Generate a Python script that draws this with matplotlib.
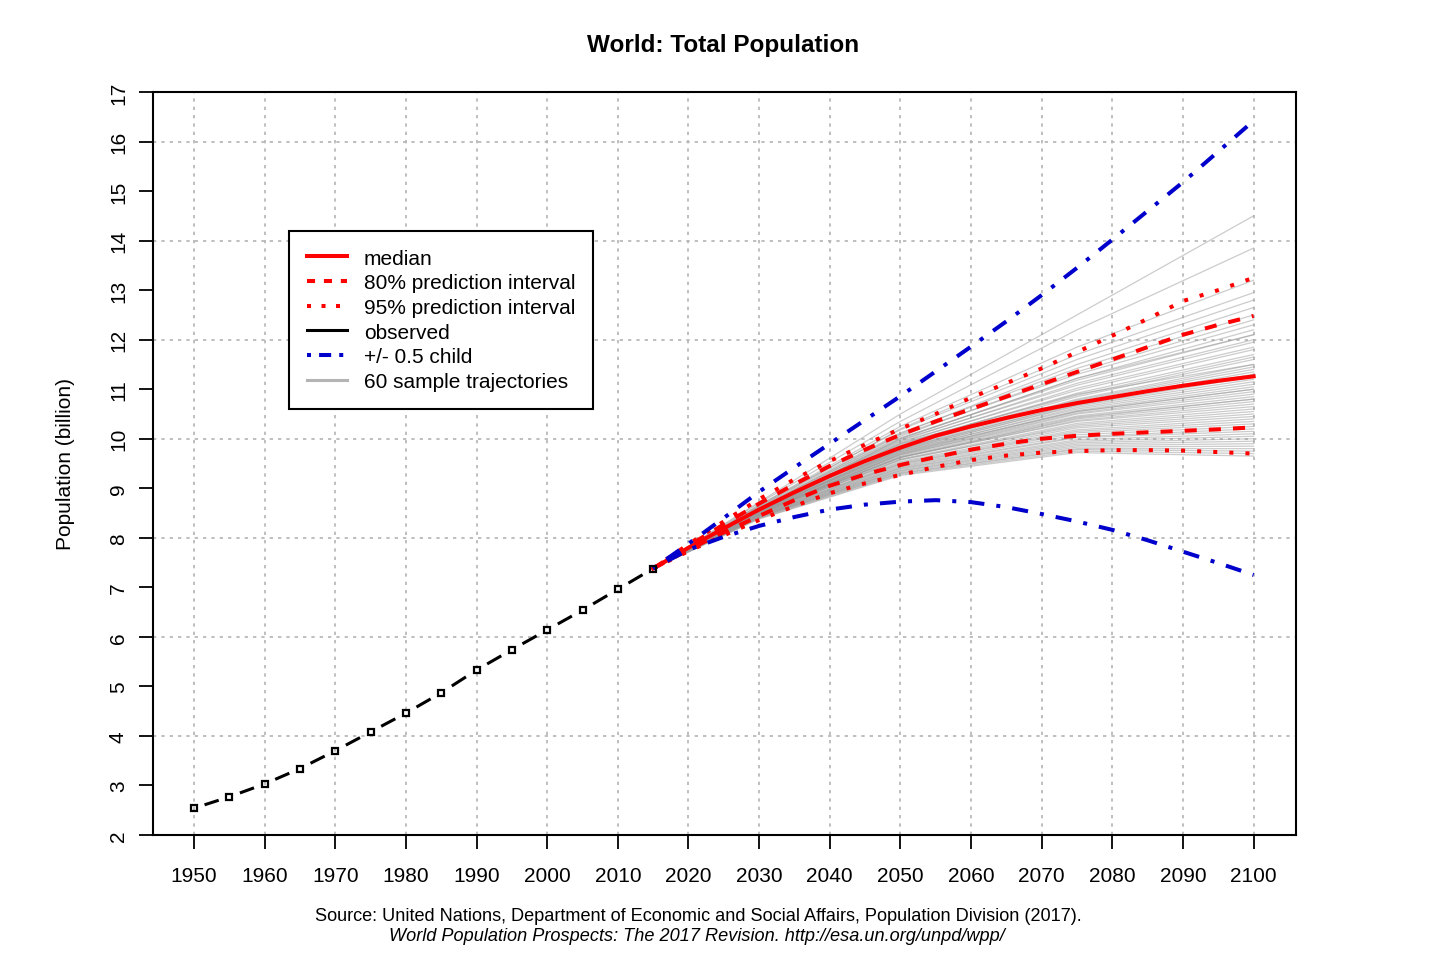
import numpy as np
import matplotlib
matplotlib.use("Agg")
import matplotlib.pyplot as plt
from matplotlib.lines import Line2D

plt.rcParams['font.family'] = ['Liberation Sans', 'DejaVu Sans']

# observed population (billion)
obs_years = [1950, 1955, 1960, 1965, 1970, 1975, 1980, 1985, 1990, 1995, 2000, 2005, 2010, 2015]
obs_pop = [2.54, 2.77, 3.03, 3.34, 3.70, 4.08, 4.46, 4.87, 5.33, 5.74, 6.14, 6.54, 6.96, 7.38]

# projections
proj_years = [2015, 2020, 2025, 2030, 2035, 2040, 2045, 2050, 2055, 2060,
              2065, 2070, 2075, 2080, 2085, 2090, 2095, 2100]
median = [7.38, 7.80, 8.19, 8.57, 8.92, 9.25, 9.55, 9.82, 10.06, 10.25,
          10.42, 10.58, 10.72, 10.84, 10.96, 11.07, 11.17, 11.26]
upper80 = [7.38, 7.84, 8.27, 8.69, 9.08, 9.45, 9.78, 10.08, 10.35, 10.60,
           10.85, 11.10, 11.35, 11.60, 11.85, 12.10, 12.30, 12.48]
lower80 = [7.38, 7.76, 8.11, 8.44, 8.76, 9.05, 9.28, 9.47, 9.63, 9.78,
           9.90, 10.00, 10.06, 10.10, 10.13, 10.16, 10.19, 10.23]
upper95 = [7.38, 7.87, 8.33, 8.78, 9.18, 9.55, 9.88, 10.20, 10.50, 10.83,
           11.12, 11.42, 11.75, 12.08, 12.42, 12.78, 13.00, 13.25]
lower95 = [7.38, 7.73, 8.05, 8.36, 8.64, 8.90, 9.10, 9.27, 9.43, 9.57,
           9.66, 9.72, 9.75, 9.77, 9.77, 9.76, 9.73, 9.70]
high_child = [7.38, 7.88, 8.40, 8.93, 9.42, 9.90, 10.38, 10.86, 11.36, 11.86,
              12.37, 12.90, 13.45, 14.02, 14.60, 15.18, 15.80, 16.42]
low_child = [7.38, 7.76, 8.02, 8.24, 8.42, 8.57, 8.67, 8.73, 8.76, 8.72,
             8.62, 8.48, 8.33, 8.16, 7.95, 7.72, 7.49, 7.25]

# sample trajectories, values at 2030, 2050, 2075, 2100 (start 2015 = 7.38)
traj_years = [2015, 2030, 2050, 2075, 2100]
traj = [
    [8.72, 10.50, 12.50, 14.50], [8.70, 10.35, 12.20, 13.85], [8.66, 10.25, 11.85, 13.20],
    [8.63, 10.20, 11.70, 12.95], [8.66, 10.18, 11.60, 12.80], [8.60, 10.10, 11.50, 12.65],
    [8.64, 10.12, 11.42, 12.50], [8.58, 10.05, 11.35, 12.40], [8.61, 10.08, 11.30, 12.30],
    [8.57, 10.00, 11.22, 12.20], [8.62, 10.02, 11.18, 12.10], [8.56, 9.96, 11.12, 12.00],
    [8.58, 9.98, 11.08, 11.95], [8.55, 9.92, 11.02, 11.85], [8.60, 9.94, 10.98, 11.80],
    [8.54, 9.88, 10.92, 11.70], [8.57, 9.90, 10.88, 11.65], [8.55, 9.86, 10.85, 11.60],
    [8.53, 9.82, 10.80, 11.50], [8.56, 9.85, 10.78, 11.45], [8.54, 9.80, 10.76, 11.40],
    [8.52, 9.78, 10.72, 11.35], [8.55, 9.80, 10.70, 11.30], [8.53, 9.76, 10.68, 11.25],
    [8.55, 9.77, 10.66, 11.20], [8.51, 9.73, 10.63, 11.15], [8.54, 9.75, 10.60, 11.10],
    [8.52, 9.71, 10.57, 11.05], [8.55, 9.73, 10.55, 11.00], [8.50, 9.69, 10.52, 10.95],
    [8.53, 9.67, 10.50, 10.90], [8.51, 9.68, 10.46, 10.85], [8.49, 9.65, 10.44, 10.80],
    [8.52, 9.63, 10.40, 10.75], [8.50, 9.62, 10.37, 10.70], [8.48, 9.63, 10.35, 10.65],
    [8.51, 9.59, 10.31, 10.60], [8.49, 9.57, 10.28, 10.55], [8.47, 9.58, 10.25, 10.50],
    [8.50, 9.54, 10.22, 10.45], [8.46, 9.52, 10.18, 10.40], [8.48, 9.50, 10.15, 10.35],
    [8.45, 9.49, 10.12, 10.30], [8.47, 9.47, 10.08, 10.25], [8.44, 9.45, 10.04, 10.20],
    [8.46, 9.43, 10.02, 10.15], [8.43, 9.41, 9.98, 10.10], [8.45, 9.40, 9.95, 10.05],
    [8.42, 9.38, 9.92, 10.00], [8.44, 9.36, 9.89, 9.95], [8.41, 9.35, 9.86, 9.90],
    [8.43, 9.33, 9.83, 9.85], [8.40, 9.31, 9.80, 9.80], [8.42, 9.30, 9.78, 9.75],
    [8.39, 9.28, 9.75, 9.70], [8.38, 9.26, 9.72, 9.65], [8.58, 9.90, 10.90, 11.50],
    [8.49, 9.70, 10.55, 11.00], [8.53, 9.62, 10.42, 10.80], [8.55, 10.00, 11.22, 12.10],
]

x_ticks = list(range(1950, 2101, 10))
y_ticks = list(range(2, 18))
y_grid = list(range(4, 17, 2))

fig = plt.figure(figsize=(14.4, 9.62), dpi=100)
ax = fig.add_axes([0.10625, 0.131, 0.79375, 0.7723])

# grid
for yv in y_grid:
    ax.axhline(yv, color='#b4b4b4', lw=1.2, dashes=(2, 3), zorder=0)
for xv in x_ticks:
    ax.axvline(xv, color='#b4b4b4', lw=1.2, dashes=(2, 3), zorder=0)

# trajectories
for row in traj:
    ax.plot(traj_years, [obs_pop[-1]] + row, color='#9a9a9a', lw=0.9, alpha=0.5, zorder=1)

# red median and intervals
ax.plot(proj_years, median, color='red', lw=2.9, zorder=3)
ax.plot(proj_years, upper80, color='red', lw=2.9, dashes=(3, 3), zorder=3)
ax.plot(proj_years, lower80, color='red', lw=2.9, dashes=(3, 3), zorder=3)
ax.plot(proj_years, upper95, color='red', lw=2.9, dashes=(1, 3), zorder=3)
ax.plot(proj_years, lower95, color='red', lw=2.9, dashes=(1, 3), zorder=3)

# +/- 0.5 child
ax.plot(proj_years, high_child, color='#0000cc', lw=2.9, dashes=(1, 3, 4, 3), zorder=4)
ax.plot(proj_years, low_child, color='#0000cc', lw=2.9, dashes=(1, 3, 4, 3), zorder=4)

# observed: points with gapped segments (like R type="b")
for i in range(len(obs_years) - 1):
    x0, x1 = obs_years[i], obs_years[i + 1]
    y0, y1 = obs_pop[i], obs_pop[i + 1]
    ax.plot([x0 + 0.3 * (x1 - x0), x0 + 0.7 * (x1 - x0)],
            [y0 + 0.3 * (y1 - y0), y0 + 0.7 * (y1 - y0)],
            color='black', lw=2.2, solid_capstyle='butt', zorder=5)
ax.plot(obs_years, obs_pop, linestyle='none', marker='s', ms=5, mfc='none',
        mec='black', mew=1.6, zorder=5)

ax.set_xlim(1944.2, 2106.0)
ax.set_ylim(2, 17)
ax.set_xticks(x_ticks)
ax.set_yticks(y_ticks)
ax.set_yticklabels([str(v) for v in y_ticks], rotation=90, va='center')
ax.tick_params(axis='both', length=10, width=1.3, labelsize=15, color='black')
ax.tick_params(axis='x', pad=12)
ax.tick_params(axis='y', pad=8)
for sp in ax.spines.values():
    sp.set_linewidth(1.5)

# legend
handles = [
    Line2D([], [], color='red', lw=2.9),
    Line2D([], [], color='red', lw=2.9, dashes=(2, 2.2)),
    Line2D([], [], color='red', lw=2.9, dashes=(1, 2.6)),
    Line2D([], [], color='black', lw=2.2),
    Line2D([], [], color='#0000cc', lw=2.9, dashes=(1, 2, 3, 2)),
    Line2D([], [], color='#b4b4b4', lw=2.2),
]
labels = ['median', '80% prediction interval', '95% prediction interval',
          'observed', '+/- 0.5 child', '60 sample trajectories']
leg = fig.legend(handles, labels, loc='upper left', bbox_to_anchor=(0.2007, 0.7588),
                 bbox_transform=fig.transFigure, borderaxespad=0, fontsize=15,
                 frameon=True, fancybox=False, framealpha=1, edgecolor='black',
                 handlelength=1.95, handletextpad=0.8, labelspacing=0.27,
                 borderpad=0.85)
leg.get_frame().set_linewidth(1.5)

fig.text(0.502, 0.9532, 'World: Total Population', ha='center', va='center',
         fontsize=17.5, fontweight='bold')
fig.text(0.0458, 0.5177, 'Population (billion)', rotation=90, ha='center', va='center',
         fontsize=15)
fig.text(0.4847, 0.0478,
         'Source: United Nations, Department of Economic and Social Affairs, Population Division (2017).',
         ha='center', va='center', fontsize=13.1)
fig.text(0.484, 0.026,
         'World Population Prospects: The 2017 Revision. http://esa.un.org/unpd/wpp/',
         ha='center', va='center', fontsize=13.1, style='italic')

fig.savefig('out.png', dpi=100)
